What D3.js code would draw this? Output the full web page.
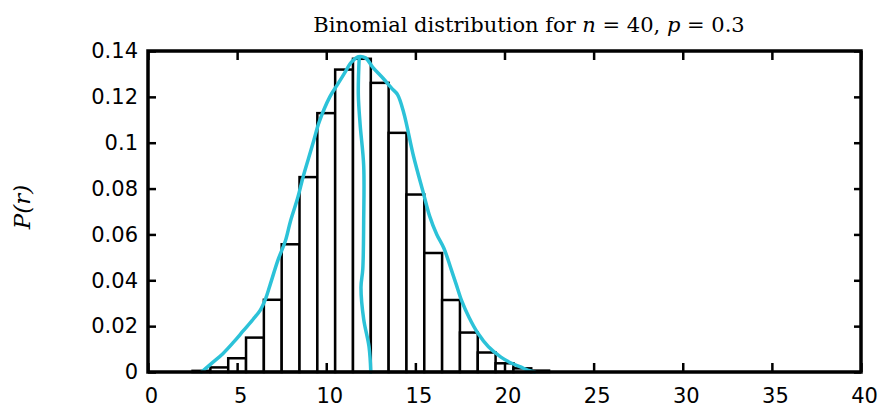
<!DOCTYPE html>
<html>
<head>
<meta charset="utf-8">
<script src="https://cdn.jsdelivr.net/npm/d3@7"></script>
<style>
  html, body { margin: 0; padding: 0; background: #fff; }
  svg { display: block; }
  .tick text { font-family: "DejaVu Sans", sans-serif; font-size: 21px; fill: #000; }
</style>
</head>
<body>
<svg id="chart" width="880" height="407"></svg>
<script>
// binomial histogram, n = 40, p = 0.3 (bar heights)
const barR = [3, 4, 5, 6, 7, 8, 9, 10, 11, 12, 13, 14, 15, 16, 17, 18, 19, 20, 21, 22];
const barP = [0.0005, 0.002, 0.006, 0.015, 0.0315, 0.0557, 0.085, 0.1129, 0.1319, 0.1366,
              0.1261, 0.1043, 0.0774, 0.0519, 0.0314, 0.0172, 0.0085, 0.0038, 0.0016, 0.0006];

// hand-traced cyan curve: main arch, then the drop from the peak
const curveR = [3.0, 3.6, 4.2, 4.8, 5.35, 5.9, 6.3, 6.6, 6.85, 7.3, 7.7, 8.0, 8.4, 8.7, 9.0, 9.3, 9.6,
                10.2, 10.6, 11.0, 11.4, 11.8, 12.2, 12.6, 13.2, 13.7, 14.0, 14.35, 14.9, 15.45,
                15.8, 16.2, 16.6, 17.0, 17.3, 17.6, 18.0, 18.5, 19.1, 19.8, 20.4, 20.9, 21.3, 21.7];
const curveP = [0.0, 0.004, 0.008, 0.013, 0.018, 0.023, 0.027, 0.032, 0.038, 0.049, 0.057, 0.066, 0.076,
                0.085, 0.093, 0.101, 0.109, 0.120, 0.125, 0.130, 0.135, 0.1375, 0.137, 0.133, 0.128,
                0.1235, 0.121, 0.113, 0.094, 0.078, 0.068, 0.060, 0.054, 0.045, 0.038, 0.031,
                0.024, 0.017, 0.011, 0.0065, 0.0038, 0.0022, 0.0008, 0.0];
const dropR = [11.85, 11.8, 11.9, 12.1, 12.1, 12.05, 11.95, 12.1, 12.4, 12.5];
const dropP = [0.1375, 0.121, 0.108, 0.09, 0.066, 0.045, 0.037, 0.023, 0.011, 0.0];

const xTicks = [0, 5, 10, 15, 20, 25, 30, 35, 40];
const yTicks = [0, 0.02, 0.04, 0.06, 0.08, 0.1, 0.12, 0.14];
const yTickLabels = ['0', '0.02', '0.04', '0.06', '0.08', '0.1', '0.12', '0.14'];

const title = 'Binomial distribution for ';

const margin = { top: 51, right: 19, bottom: 35, left: 148 };
const width = 880 - margin.left - margin.right;
const height = 407 - margin.top - margin.bottom;

const svg = d3.select('#chart');
const g = svg.append('g').attr('transform', `translate(${margin.left},${margin.top})`);

const x = d3.scaleLinear().domain([0, 40]).range([0, width]);
const y = d3.scaleLinear().domain([0, 0.14]).range([height, 0]);

// bars
g.selectAll('.bar')
  .data(barR.map((r, i) => ({ r, p: barP[i] })))
  .enter()
  .append('rect')
  .attr('class', 'bar')
  .attr('x', d => x(d.r - 0.5))
  .attr('y', d => y(d.p))
  .attr('width', d => x(d.r + 0.5) - x(d.r - 0.5))
  .attr('height', d => y(0) - y(d.p))
  .attr('fill', '#fff')
  .attr('stroke', '#000')
  .attr('stroke-width', 2.5);

// cyan curve
const line = d3.line().x(d => x(d[0])).y(d => y(d[1])).curve(d3.curveCatmullRom);
[[curveR, curveP], [dropR, dropP]].forEach(([rs, ps]) => {
  g.append('path')
    .datum(rs.map((r, i) => [r, ps[i]]))
    .attr('d', line)
    .attr('fill', 'none')
    .attr('stroke', '#2cc2d8')
    .attr('stroke-width', 3.5)
    .attr('stroke-linejoin', 'round')
    .attr('stroke-linecap', 'round');
});

// axes, ticks pointing inward
const styleAxis = sel => {
  sel.select('.domain').remove();
  sel.selectAll('.tick line').attr('stroke', '#000').attr('stroke-width', 2.5);
};

g.append('g')
  .attr('transform', `translate(0,${height})`)
  .call(d3.axisBottom(x).tickValues(xTicks).tickSizeInner(-9).tickSizeOuter(0).tickPadding(16)
    .tickFormat(d3.format('d')))
  .call(styleAxis)
  .selectAll('text').attr('dx', 3);

g.append('g')
  .call(d3.axisTop(x).tickValues(xTicks).tickSizeInner(-9).tickSizeOuter(0).tickFormat(''))
  .call(styleAxis);

g.append('g')
  .call(d3.axisLeft(y).tickValues(yTicks).tickSizeInner(-8).tickSizeOuter(0).tickPadding(10)
    .tickFormat((d, i) => yTickLabels[i]))
  .call(styleAxis);

g.append('g')
  .attr('transform', `translate(${width},0)`)
  .call(d3.axisRight(y).tickValues(yTicks).tickSizeInner(-7).tickSizeOuter(0).tickFormat(''))
  .call(styleAxis);

// frame
g.append('rect')
  .attr('width', width)
  .attr('height', height)
  .attr('fill', 'none')
  .attr('stroke', '#000')
  .attr('stroke-width', 3.5);

// title
const t = svg.append('text')
  .attr('x', 529)
  .attr('y', 32)
  .attr('text-anchor', 'middle')
  .style('font-family', '"DejaVu Serif", serif')
  .style('font-size', '21px');
t.append('tspan').text(title);
t.append('tspan').style('font-style', 'italic').text('n');
t.append('tspan').text(' = 40, ');
t.append('tspan').style('font-style', 'italic').text('p');
t.append('tspan').text(' = 0.3');

// y label
svg.append('text')
  .attr('transform', 'translate(30,207) rotate(-90)')
  .attr('text-anchor', 'middle')
  .style('font-family', '"DejaVu Serif", serif')
  .style('font-style', 'italic')
  .style('font-size', '23px')
  .text('P(r)');
</script>
</body>
</html>
